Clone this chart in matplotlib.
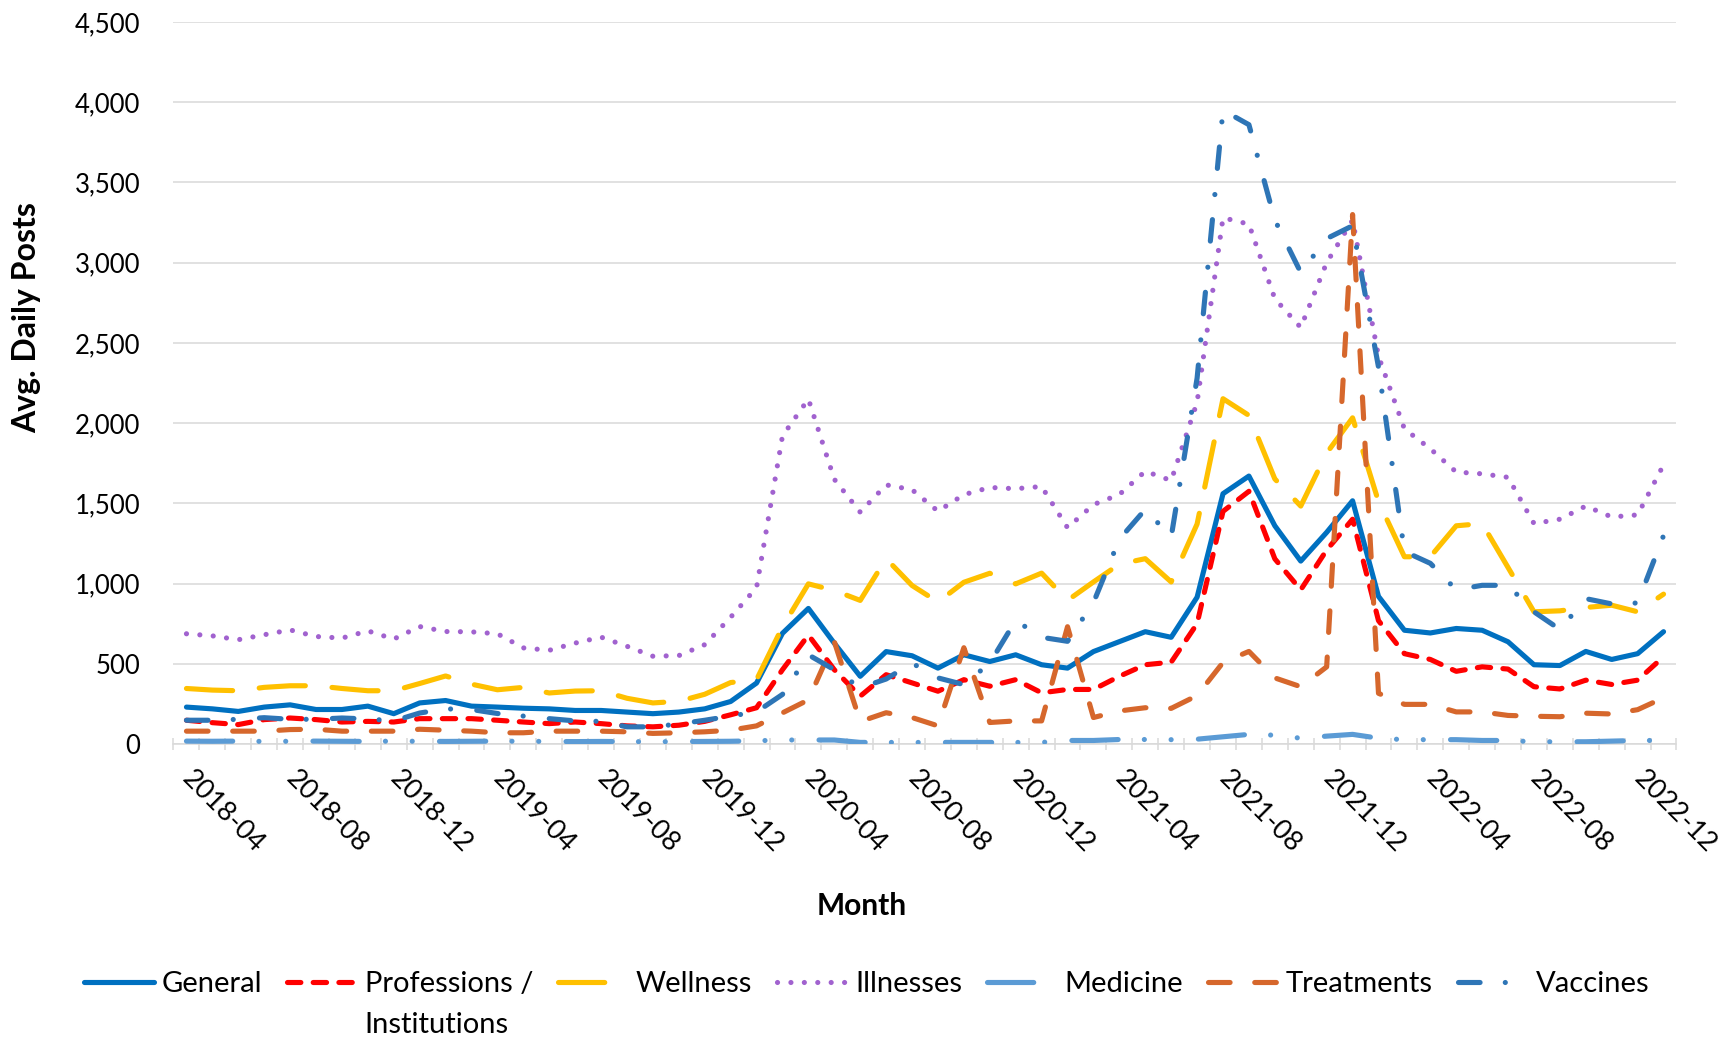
import matplotlib
matplotlib.use("Agg")
import matplotlib.pyplot as plt
import numpy as np
import pandas as pd

plt.rcParams["font.family"] = ["Lato", "DejaVu Sans"]

# monthly categories, 2018-04 .. 2023-01
months = list(pd.period_range("2018-04", "2023-01", freq="M").strftime("%Y-%m"))

general = [230, 219, 203, 230, 244, 215, 215, 236, 189, 256, 271, 236, 230, 223, 219,
           209, 209, 199, 189, 199, 219, 265, 380, 690, 845, 628, 422, 576, 550, 473,
           556, 514, 556, 494, 473, 576, 638, 700, 665, 915, 1560, 1670, 1360, 1140, 1319,
           1516, 920, 709, 692, 720, 709, 637, 494, 489, 577, 527, 563, 700]
professions = [148, 133, 121, 152, 162, 152, 137, 141, 137, 158, 158, 158, 148, 137, 127,
               137, 127, 113, 107, 117, 141, 182, 226, 463, 679, 463, 298, 432, 381, 329,
               401, 360, 401, 319, 340, 340, 422, 494, 510, 750, 1450, 1575, 1154, 961, 1209,
               1401, 769, 563, 527, 453, 481, 467, 357, 343, 398, 371, 398, 544]
wellness = [346, 336, 332, 353, 363, 363, 346, 332, 332, 377, 424, 373, 338, 353, 318,
            330, 332, 285, 256, 266, 310, 383, 401, 730, 998, 957, 895, 1155, 988, 885,
            1008, 1064, 998, 1065, 895, 1010, 1121, 1155, 1010, 1371, 2152, 2048, 1652, 1483, 1813,
            2033, 1511, 1167, 1167, 1360, 1374, 1100, 824, 830, 851, 865, 824, 934]
illnesses = [687, 674, 650, 681, 711, 670, 660, 705, 654, 732, 701, 699, 687, 599, 584,
             629, 666, 609, 547, 551, 619, 790, 975, 1920, 2150, 1650, 1445, 1615, 1585, 1451,
             1554, 1599, 1591, 1605, 1348, 1492, 1555, 1700, 1642, 2130, 3280, 3240, 2775, 2596, 3000,
             3265, 2417, 1964, 1840, 1695, 1684, 1662, 1374, 1401, 1483, 1415, 1428, 1740]
medicine = [18, 17, 18, 16, 17, 18, 17, 16, 18, 17, 16, 17, 18, 17, 16,
            15, 16, 15, 14, 15, 16, 17, 20, 25, 25, 25, 10, 10, 10, 10,
            10, 10, 10, 10, 22, 22, 28, 28, 27, 30, 45, 60, 55, 36, 49,
            60, 36, 27, 27, 27, 22, 22, 14, 14, 14, 18, 22, 22]
treatments = [80, 80, 80, 80, 90, 92, 80, 80, 80, 92, 86, 80, 70, 70, 80,
              80, 80, 76, 66, 70, 76, 86, 113, 194, 275, 638, 140, 195, 165, 113,
              600, 134, 144, 144, 731, 165, 206, 226, 222, 302, 508, 577, 412, 357, 481,
              3300, 316, 247, 247, 200, 200, 178, 173, 170, 192, 187, 214, 288]
vaccines = [148, 148, 154, 164, 154, 154, 162, 156, 144, 193, 219, 215, 190, 174, 158,
            144, 141, 107, 107, 125, 148, 174, 200, 309, 556, 463, 350, 405, 504, 412,
            370, 504, 770, 665, 640, 881, 1276, 1462, 1290, 2280, 3950, 3860, 3266, 2939, 3150,
            3230, 2350, 1200, 1126, 961, 989, 989, 824, 714, 906, 873, 879, 1299]

series = [
    ("General", general, "#0070C0", "-"),
    ("Professions /", professions, "#FF0000", (0, (2.6, 2.4))),
    ("Wellness", wellness, "#FFC000", (0, (9, 5.2))),
    ("Illnesses", illnesses, "#A162CF", (0, (0.01, 2.6))),
    ("Medicine", medicine, "#5B9BD5", (0, (9, 5.1, 0.01, 5.2, 0.01, 5.3))),
    ("Treatments", treatments, "#D6672C", (0, (4.2, 4.8))),
    ("Vaccines", vaccines, "#2E75B6", (0, (4.2, 4.9, 0.01, 5.1))),
]

fig = plt.figure(figsize=(17.33, 10.38), dpi=100)
ax = fig.add_axes([173.5 / 1733, 1 - 744 / 1038, 1503 / 1733, 722 / 1038])

x = np.arange(len(months))
handles = []
for i, (name, vals, color, ls) in enumerate(series):
    (ln,) = ax.plot(x, vals, color=color, lw=3.7, linestyle=ls,
                    dash_capstyle="round", solid_capstyle="round",
                    solid_joinstyle="round", dash_joinstyle="round",
                    label=name, zorder=3 + i)
    handles.append(ln)

ax.set_xlim(-0.5, len(months) - 0.5)
ax.set_ylim(0, 4500)
ax.set_yticks(np.arange(0, 4501, 500))
ax.set_yticklabels([f"{v:,}" for v in range(0, 4501, 500)])
ax.grid(axis="y", color="#D9D9D9", lw=1.1, zorder=0)

ax.set_xticks(x[::4])
ax.set_xticklabels(months[::4], rotation=-45, ha="left", va="center",
                   rotation_mode="anchor")
ax.set_xticks(np.arange(-0.5, len(months), 1), minor=True)
ax.tick_params(axis="x", which="major", length=0, pad=22, labelsize=19.5)
ax.tick_params(axis="x", which="minor", length=9, direction="inout",
               color="#D9D9D9", width=1.1)
ax.tick_params(axis="y", length=0, pad=24, labelsize=18.5)

for s in ["top", "right", "left"]:
    ax.spines[s].set_visible(False)
ax.spines["bottom"].set_color("#D9D9D9")
ax.spines["bottom"].set_linewidth(1.1)

fig.text(862 / 1733, 1 - 906 / 1038, "Month", fontsize=21.5, fontweight="bold",
         ha="center", va="center")
fig.text(27 / 1733, 1 - 318 / 1038, "Avg. Daily Posts", fontsize=23,
         fontweight="bold", rotation=90, ha="center", va="center")

leg = fig.legend(handles=handles, loc="center", bbox_to_anchor=(0.5, 1 - 984 / 1038),
                 ncol=7, frameon=False, fontsize=21, handlelength=2.4,
                 handletextpad=0.27, columnspacing=0.85)

# second line of the wrapped legend entry
fig.canvas.draw()
bb = leg.get_texts()[1].get_window_extent().transformed(fig.transFigure.inverted())
fig.text(bb.x0, bb.y0 - 0.014, "Institutions", fontsize=21, ha="left", va="top")

fig.savefig("out.png", dpi=100)
